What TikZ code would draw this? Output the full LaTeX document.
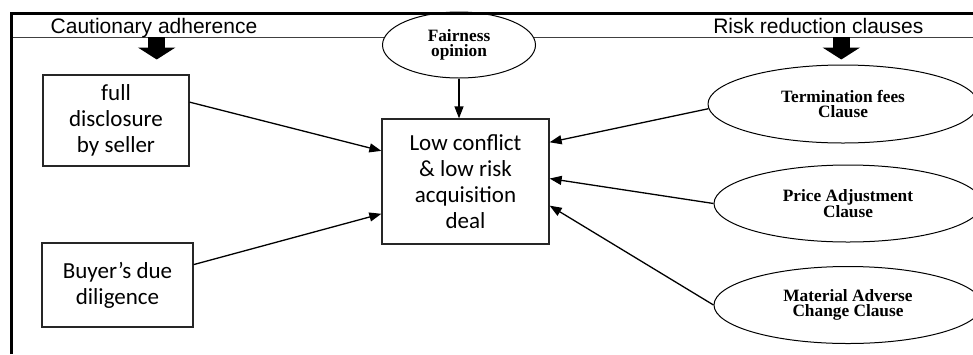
\documentclass[tikz,border=0pt]{standalone}
\usepackage{fontspec}
\setmainfont{Carlito}
\newfontfamily\headfont{Liberation Sans}
\newfontfamily\clausefont{Liberation Serif}
\usepackage{tikz}
\usetikzlibrary{arrows.meta,calc,positioning,shapes}

\begin{document}
\begin{tikzpicture}[x=1pt,y=-1pt,
	box/.style={draw=black!85,line width=1.3pt,rectangle,align=center,inner sep=0pt,font=\fontsize{23}{26}\selectfont},
	clause/.style={draw,line width=1pt,ellipse,fill=white,align=center,inner sep=0pt,font=\clausefont\fontsize{17.3}{15.5}\selectfont\bfseries},
	head/.style={anchor=base,inner sep=0pt,font=\headfont\fontsize{21}{24}\selectfont},
	conn/.style={line width=1.3pt,-{Triangle[length=12pt,width=9pt]}},
	bigarrow/.style={line width=17pt,-{Triangle[length=12pt,width=37pt]}}]
	\clip (0,0) rectangle (973,354);
	\fill[white] (0,0) rectangle (973,354);

	\draw[line width=1pt,black!75] (10,37) -- (973,37);

	\node[head] (caut) at (154,33.3) {Cautionary adherence};
	\node[head] (riskred) at (818.3,33.3) {Risk reduction clauses};
	\coordinate (cautdrop) at (156.7,37);
	\coordinate (riskdrop) at (841.3,37);
	\draw[bigarrow] (cautdrop) -- ++(0,22.5);
	\draw[bigarrow] (riskdrop) -- ++(0,22.5);

	\node[box,minimum width=146,minimum height=91] (full) at (116,120.5) {full\\disclosure\\by seller};
	\node[box,minimum width=151,minimum height=84] (buyer) at (117.5,285) {Buyer’s due\\diligence};
	\node[box,minimum width=167,minimum height=125] (deal) at (465.5,181.5) {Low conflict\\\& low risk\\acquisition\\deal};

	\node[clause,minimum width=153,minimum height=66] (fair) at (459,45) {Fairness\\opinion};
	\node[clause,minimum width=270,minimum height=78] (term) at (843,104) {Termination fees\\Clause};
	\node[clause,minimum width=268,minimum height=77] (price) at (848,203.5) {Price Adjustment\\Clause};
	\node[clause,minimum width=268,minimum height=77] (mac) at (848,305) {Material Adverse\\Change Clause};

	\draw[line width=3pt,line join=miter] (11.3,354) -- (11.3,13.5) -- (973,13.5);

	\draw[conn] (full.14) -- (deal.160);
	\draw[conn] (buyer.15) -- (deal.201);
	\draw[conn] (fair.south) -- (fair.south |- deal.north);
	\draw[conn] (term.182) -- (deal.25);
	\draw[conn] (price.west) -- (deal.2);
	\draw[conn] (mac.west) -- (deal.-16);
\end{tikzpicture}
\end{document}
